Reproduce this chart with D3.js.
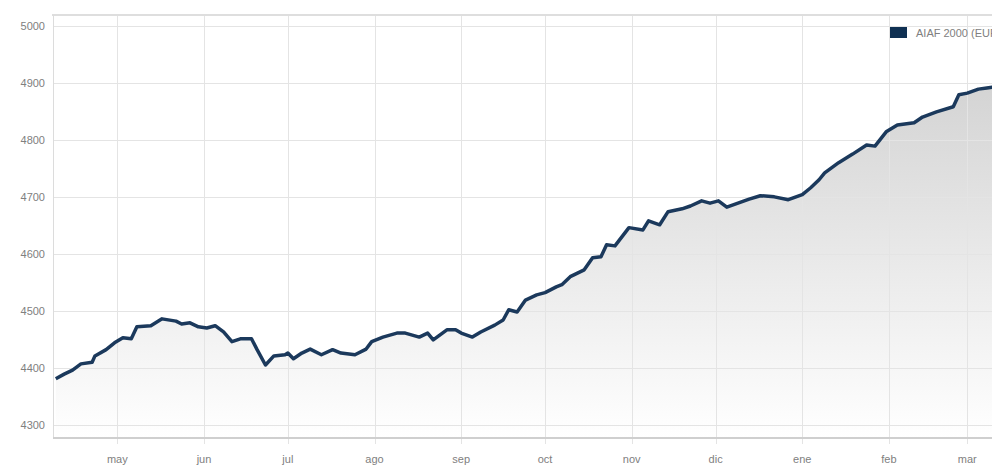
<!DOCTYPE html>
<html>
<head>
<meta charset="utf-8">
<script src="https://cdn.jsdelivr.net/npm/d3@7"></script>
<style>
  body { margin: 0; background: #fff; }
  svg { display: block; font-family: "Liberation Sans", Arial, sans-serif; }
  .tick-text { fill: #808080; font-size: 11px; }
  .grid { stroke: #e4e4e4; stroke-width: 1; }
</style>
</head>
<body>
<div id="chart"></div>
<script>
// AIAF 2000 index, daily-ish readings Apr 2012 - Mar 2013
const dates = [
  '2012-04-09', '2012-04-12', '2012-04-15', '2012-04-18', '2012-04-22', '2012-04-23', '2012-04-27', '2012-04-30',
  '2012-05-03', '2012-05-06', '2012-05-08', '2012-05-13', '2012-05-17', '2012-05-22', '2012-05-24', '2012-05-27',
  '2012-05-30', '2012-06-02', '2012-06-05', '2012-06-08', '2012-06-11', '2012-06-14', '2012-06-18', '2012-06-20',
  '2012-06-23', '2012-06-26', '2012-06-30', '2012-07-01', '2012-07-03', '2012-07-06', '2012-07-09', '2012-07-13',
  '2012-07-17', '2012-07-20', '2012-07-25', '2012-07-29', '2012-07-31', '2012-08-04', '2012-08-09', '2012-08-12',
  '2012-08-17', '2012-08-20', '2012-08-22', '2012-08-27', '2012-08-30', '2012-09-01', '2012-09-05', '2012-09-08',
  '2012-09-13', '2012-09-16', '2012-09-18', '2012-09-21', '2012-09-24', '2012-09-28', '2012-10-01', '2012-10-05',
  '2012-10-07', '2012-10-10', '2012-10-15', '2012-10-18', '2012-10-21', '2012-10-23', '2012-10-26', '2012-10-31',
  '2012-11-05', '2012-11-07', '2012-11-11', '2012-11-14', '2012-11-19', '2012-11-22', '2012-11-26', '2012-11-29',
  '2012-12-02', '2012-12-05', '2012-12-09', '2012-12-13', '2012-12-17', '2012-12-22', '2012-12-27', '2013-01-01',
  '2013-01-04', '2013-01-07', '2013-01-09', '2013-01-14', '2013-01-19', '2013-01-24', '2013-01-27', '2013-01-31',
  '2013-02-04', '2013-02-10', '2013-02-13', '2013-02-18', '2013-02-24', '2013-02-26', '2013-03-01', '2013-03-05',
  '2013-03-08', '2013-03-11'
];
const values = [
  4381, 4389, 4396, 4407, 4410, 4421, 4432, 4444,
  4453, 4451, 4472, 4474, 4486, 4482, 4477, 4479,
  4472, 4470, 4474, 4463, 4446, 4451, 4451, 4432,
  4405, 4421, 4423, 4426, 4416, 4426, 4433, 4423,
  4432, 4426, 4423, 4433, 4446, 4454, 4461, 4461,
  4454, 4461, 4449, 4467, 4467, 4461, 4454, 4463,
  4475, 4484, 4502, 4498, 4519, 4528, 4532, 4542,
  4546, 4560, 4572, 4593, 4595, 4616, 4614, 4646,
  4642, 4658, 4651, 4674, 4679, 4684, 4693, 4689,
  4693, 4682, 4689, 4696, 4702, 4700, 4695, 4704,
  4716, 4730, 4742, 4760, 4775, 4791, 4789, 4814,
  4826, 4830, 4840, 4849, 4858, 4879, 4882, 4889,
  4891, 4893
];
const yTicks = [4300, 4400, 4500, 4600, 4700, 4800, 4900, 5000];
const monthTicks = ['2012-05-01', '2012-06-01', '2012-07-01', '2012-08-01', '2012-09-01', '2012-10-01',
  '2012-11-01', '2012-12-01', '2013-01-01', '2013-02-01', '2013-03-01'];
const monthLabels = ['may', 'jun', 'jul', 'ago', 'sep', 'oct', 'nov', 'dic', 'ene', 'feb', 'mar'];
const seriesName = 'AIAF 2000 (EUR)';

const width = 992, height = 465;
const plotLeft = 53, plotTop = 15, plotBottom = 438, plotRight = 998;

const parse = d3.timeParse('%Y-%m-%d');
const data = dates.map((d, i) => ({date: parse(d), value: values[i]}));

const svg = d3.select('#chart').append('svg').attr('width', width).attr('height', height);

const x = d3.scaleTime().domain([parse('2012-04-08'), parse('2013-03-12')]).range([plotLeft, plotRight]);
const y = d3.scaleLinear().domain([4277, 5019]).range([plotBottom, plotTop]);

const defs = svg.append('defs');
const grad = defs.append('linearGradient').attr('id', 'areaGrad').attr('x1', 0).attr('y1', 0).attr('x2', 0).attr('y2', 1);
grad.append('stop').attr('offset', '0%').attr('stop-color', '#d4d4d4');
grad.append('stop').attr('offset', '100%').attr('stop-color', '#ffffff');

// AREA
const area = d3.area().x(d => x(d.date)).y0(plotBottom).y1(d => y(d.value));
svg.append('path').attr('d', area(data)).attr('fill', 'url(#areaGrad)');

// GRID
svg.append('g').selectAll('line').data(yTicks).enter().append('line').attr('class', 'grid')
  .attr('x1', plotLeft).attr('x2', width).attr('y1', d => Math.round(y(d)) + 0.5).attr('y2', d => Math.round(y(d)) + 0.5);
svg.append('g').selectAll('line').data(monthTicks).enter().append('line').attr('class', 'grid')
  .attr('x1', d => Math.round(x(parse(d))) + 0.5).attr('x2', d => Math.round(x(parse(d))) + 0.5)
  .attr('y1', plotTop).attr('y2', plotBottom + 6);

// FRAME
svg.append('line').attr('x1', plotLeft - 1).attr('x2', width).attr('y1', plotTop).attr('y2', plotTop).attr('stroke', '#dedede').attr('stroke-width', 2);
svg.append('line').attr('x1', plotLeft + 0.5).attr('x2', plotLeft + 0.5).attr('y1', plotTop).attr('y2', plotBottom).attr('stroke', '#dcdcdc');
svg.append('line').attr('x1', plotLeft).attr('x2', width).attr('y1', plotBottom).attr('y2', plotBottom).attr('stroke', '#cfcfcf').attr('stroke-width', 2);

// LINE
const line = d3.line().x(d => x(d.date)).y(d => y(d.value));
svg.append('path').attr('d', line(data)).attr('fill', 'none').attr('stroke', '#1b395c')
  .attr('stroke-width', 3.5).attr('stroke-linejoin', 'round');

// Y LABELS
svg.append('g').selectAll('text').data(yTicks).enter().append('text').attr('class', 'tick-text')
  .attr('x', 45).attr('y', d => y(d)).attr('dy', '0.35em').attr('text-anchor', 'end').text(d => d);

// X LABELS
svg.append('g').selectAll('text').data(monthTicks).enter().append('text').attr('class', 'tick-text')
  .attr('x', d => x(parse(d))).attr('y', 463).attr('text-anchor', 'middle').text((d, i) => monthLabels[i]);

// LEGEND
svg.append('rect').attr('x', 890).attr('y', 27).attr('width', 17).attr('height', 11).attr('fill', '#0f3052');
svg.append('text').attr('class', 'tick-text').attr('x', 916).attr('y', 37).text(seriesName);
</script>
</body>
</html>
